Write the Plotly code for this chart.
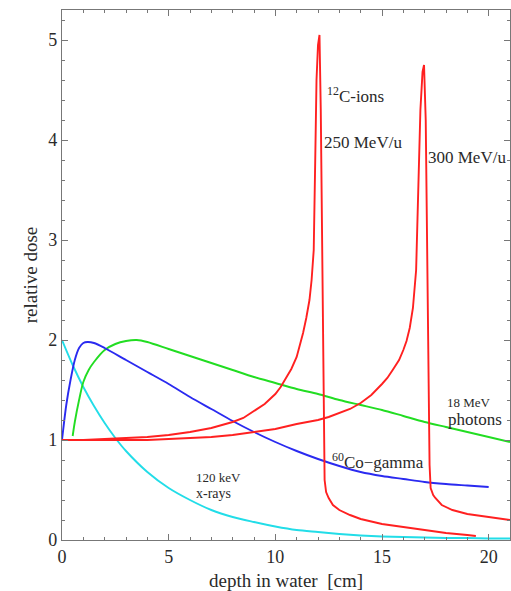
import plotly.graph_objects as go

# Depth-dose curves in water (depth in cm, dose relative to entrance)
xray_depth = [0, 0.5, 1, 1.5, 2, 2.5, 3, 4, 5, 6, 7, 8, 9, 10, 11, 12, 13, 14, 15, 16, 17, 18, 19, 20, 21]
xray_dose = [2.0, 1.75, 1.53, 1.34, 1.17, 1.02, 0.89, 0.68, 0.52, 0.40, 0.30, 0.23, 0.18, 0.135, 0.10,
             0.08, 0.06, 0.045, 0.035, 0.03, 0.025, 0.02, 0.02, 0.015, 0.015]

co_depth = [0, 0.2, 0.4, 0.6, 0.8, 1.0, 1.2, 1.5, 2, 3, 4, 5, 6, 7, 8, 9, 10, 11, 12, 13, 14, 15,
            16, 17, 18, 19, 20]
co_dose = [1.0, 1.35, 1.6, 1.8, 1.92, 1.97, 1.98, 1.97, 1.92, 1.80, 1.68, 1.56, 1.43, 1.31, 1.19,
           1.08, 0.98, 0.89, 0.81, 0.74, 0.68, 0.64, 0.61, 0.58, 0.56, 0.545, 0.53]

ph_depth = [0.5, 0.6, 0.8, 1.0, 1.25, 1.5, 2, 2.5, 3, 3.5, 4, 5, 6, 7, 8, 9, 10, 11, 12, 13, 14,
            15, 16, 17, 18, 19, 20, 21]
ph_dose = [1.04, 1.18, 1.40, 1.58, 1.70, 1.78, 1.90, 1.96, 1.99, 2.0, 1.98, 1.91, 1.84, 1.77, 1.70,
           1.63, 1.57, 1.51, 1.46, 1.40, 1.35, 1.30, 1.24, 1.18, 1.13, 1.08, 1.03, 0.98]

c250_depth = [0, 1, 2, 3, 4, 5, 6, 7, 8, 8.5, 9, 9.5, 10, 10.25, 10.5, 10.75, 11, 11.15, 11.3, 11.45,
              11.6, 11.7, 11.8, 11.87, 11.93, 12.0, 12.07, 12.13, 12.2, 12.25, 12.28, 12.31, 12.38,
              12.5, 12.7, 13, 13.5, 14, 15, 16, 17, 18, 19, 19.4]
c250_dose = [1.0, 1.0, 1.01, 1.02, 1.03, 1.05, 1.08, 1.12, 1.18, 1.22, 1.29, 1.36, 1.46, 1.53, 1.62,
             1.71, 1.83, 1.94, 2.07, 2.22, 2.4, 2.6, 2.9, 3.8, 4.6, 4.95, 5.05, 4.3, 2.9, 1.8, 1.0,
             0.6, 0.48, 0.42, 0.35, 0.3, 0.25, 0.21, 0.16, 0.13, 0.1, 0.07, 0.05, 0.04]

c300_depth = [0, 1, 2, 3, 4, 5, 6, 7, 8, 9, 10, 11, 12, 12.5, 13, 13.5, 14, 14.5, 15, 15.25, 15.5,
              15.8, 16, 16.15, 16.3, 16.45, 16.6, 16.7, 16.8, 16.9, 16.97, 17.05, 17.1, 17.15, 17.2,
              17.23, 17.28, 17.4, 17.5, 17.8, 18.3, 19, 20, 21]
c300_dose = [1.0, 1.0, 1.0, 1.0, 1.0, 1.01, 1.02, 1.03, 1.05, 1.08, 1.11, 1.16, 1.2, 1.23, 1.27,
             1.31, 1.37, 1.45, 1.56, 1.62, 1.7, 1.8, 1.9, 1.99, 2.12, 2.32, 2.7, 3.5, 4.3, 4.68,
             4.75, 4.2, 3.2, 2.5, 1.4, 0.75, 0.52, 0.45, 0.42, 0.35, 0.3, 0.26, 0.23, 0.2]

RED = "#ff2020"
BLUE = "#2a2af0"
GREEN = "#22dd22"
CYAN = "#22dde8"
FONT = "Liberation Serif"
INK = "#2a2a2a"
FRAME = "#777777"

fig = go.Figure()
for xs, ys, col, shape in [
    (xray_depth, xray_dose, CYAN, "spline"),
    (ph_depth, ph_dose, GREEN, "spline"),
    (co_depth, co_dose, BLUE, "spline"),
    (c250_depth, c250_dose, RED, "linear"),
    (c300_depth, c300_dose, RED, "linear"),
]:
    fig.add_trace(go.Scatter(x=xs, y=ys, mode="lines",
                             line=dict(color=col, width=1.9, shape=shape, smoothing=0.8),
                             showlegend=False, hoverinfo="skip"))

labels = [
    ("<sup>12</sup>C-ions", 12.33, 4.45, 17),
    ("250 MeV/u", 12.17, 3.98, 17),
    ("300 MeV/u", 17.08, 3.83, 17),
    ("18 MeV", 17.96, 1.38, 13),
    ("photons", 17.98, 1.21, 17),
    ("<sup>60</sup>Co\u2212gamma", 12.58, 0.79, 17),
    ("120 keV", 6.17, 0.63, 13),
    ("x-rays", 6.17, 0.47, 14),
]
for text, x, y, size in labels:
    fig.add_annotation(x=x, y=y, text=text, showarrow=False, xanchor="left", yanchor="middle",
                       font=dict(family=FONT, size=size, color=INK))

axis_common = dict(
    showline=True, linecolor=FRAME, linewidth=1.3, mirror="ticks",
    ticks="inside", ticklen=6, tickcolor=FRAME, tickwidth=1.3,
    showgrid=False, zeroline=False,
    tickfont=dict(family=FONT, size=18, color=INK),
)

fig.update_xaxes(
    range=[0, 21], tick0=0, dtick=5,
    minor=dict(dtick=1, ticks="inside", ticklen=3, tickcolor=FRAME, showgrid=False),
    title=dict(text="depth in water  [cm]", font=dict(family=FONT, size=19, color=INK), standoff=9),
    **axis_common,
)
fig.update_yaxes(
    range=[0, 5.3], tick0=0, dtick=1,
    minor=dict(dtick=0.2, ticks="inside", ticklen=3, tickcolor=FRAME, showgrid=False),
    title=dict(text="relative dose", font=dict(family=FONT, size=19, color=INK), standoff=5),
    **axis_common,
)

fig.update_layout(
    width=511, height=591,
    margin=dict(l=62, r=1, t=10, b=51),
    paper_bgcolor="white", plot_bgcolor="white",
    font=dict(family=FONT),
)

fig.write_html("out.html")
